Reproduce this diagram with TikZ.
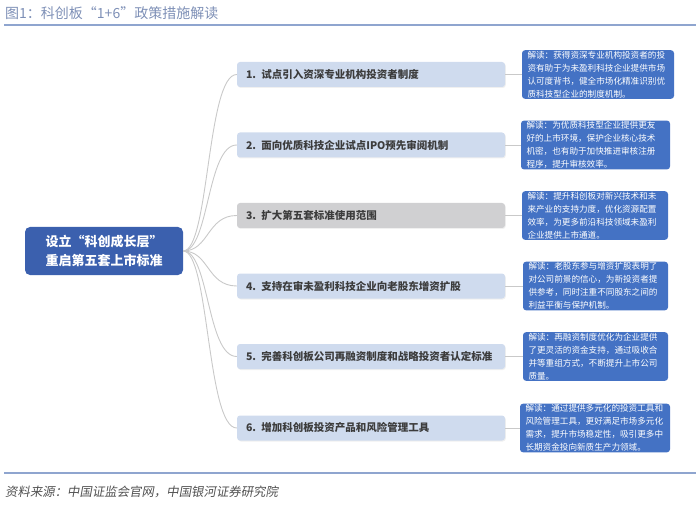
\documentclass[tikz,border=0pt]{standalone}
\usepackage{fontspec}
\setmainfont{Noto Sans CJK SC}
\newfontfamily\srcfont[FakeSlant=0.18]{Noto Sans CJK SC}
\usetikzlibrary{shadows}
\definecolor{titlecol}{HTML}{7D8FB6}
\definecolor{rulecol}{HTML}{8FA5CF}
\definecolor{rootblue}{HTML}{3B60AE}
\definecolor{branchblue}{HTML}{CFDBEE}
\definecolor{branchgray}{HTML}{D0D0D2}
\definecolor{notebl}{HTML}{4472C4}
\definecolor{conncol}{HTML}{C9C9C9}
\definecolor{btext}{HTML}{3C3C3C}
\definecolor{srcgray}{HTML}{505050}
\tikzset{
  root/.style={fill=rootblue, rounded corners=5pt, minimum width=158pt, minimum height=48pt,
    text=white, align=center, font=\bfseries\fontsize{13}{19}\selectfont},
  branch/.style={fill=branchblue, rounded corners=3pt, minimum height=25pt,
    text width=250pt, inner xsep=9pt, inner ysep=0pt, align=left, text=btext,
    font=\bfseries\fontsize{10.5}{12}\selectfont,
    drop shadow={opacity=0.12, shadow xshift=0.8pt, shadow yshift=-1pt}},
  graybranch/.style={branch, fill=branchgray},
  note/.style={fill=notebl, rounded corners=3pt, text=white, align=left,
    inner xsep=5.5pt, inner ysep=0.8pt, font=\fontsize{8.6}{13}\selectfont},
  conn/.style={draw=conncol, line width=0.9pt},
  rule/.style={draw=rulecol}
}
\begin{document}
\begin{tikzpicture}[x=1pt,y=-1pt]
\useasboundingbox (0,0) rectangle (700,510);
% title and rules
\node[anchor=west, text=titlecol, inner sep=0pt, font=\fontsize{14}{16}\selectfont] (title) at (5,13) {图1：科创板“1+6”政策措施解读};
\coordinate (tl1) at (4,25.5); \coordinate (tl2) at (696,25.5);
\draw[rule, line width=2pt] (tl1) -- (tl2);
\coordinate (bl1) at (4,473); \coordinate (bl2) at (696,473);
\draw[rule, line width=1.1pt] (bl1) -- (bl2);
\node[anchor=west, text=srcgray, inner sep=0pt, font=\srcfont\fontsize{12.4}{14}\selectfont] (src) at (5,492) {资料来源：中国证监会官网，中国银河证券研究院};
% root
\node[root] (r) at (104,251) {设立“科创成长层”\\重启第五套上市标准};
% branches
\node[branch] (b1) at (371,74.5) {1. 试点引入资深专业机构投资者制度};
\node[branch] (b2) at (371,145) {2. 面向优质科技企业试点IPO预先审阅机制};
\node[graybranch] (b3) at (371,215.5) {3. 扩大第五套标准使用范围};
\node[branch] (b4) at (371,286) {4. 支持在审未盈利科技企业向老股东增资扩股};
\node[branch] (b5) at (371,356.5) {5. 完善科创板公司再融资制度和战略投资者认定标准};
\node[branch] (b6) at (371,428) {6. 增加科创板投资产品和风险管理工具};
% notes
\node[note, text width=141pt] (n1) at (598,74.5) {解读：获得资深专业机构投资者的投\\资有助于为未盈利科技企业提供市场\\认可度背书，健全市场化精准识别优\\质科技型企业的制度机制。};
\node[note, text width=138pt] (n2) at (595.5,145) {解读：为优质科技型企业提供更友\\好的上市环境，保护企业核心技术\\机密，也有助于加快推进审核注册\\程序，提升审核效率。};
\node[note, text width=135pt] (n3) at (595,215.5) {解读：提升科创板对新兴技术和未\\来产业的支持力度，优化资源配置\\效率，为更多前沿科技领域未盈利\\企业提供上市通道。};
\node[note, text width=134pt] (n4) at (595.5,286) {解读：老股东参与增资扩股表明了\\对公司前景的信心，为新投资者提\\供参考，同时注重不同股东之间的\\利益平衡与保护机制。};
\node[note, text width=134pt] (n5) at (595.5,356.5) {解读：再融资制度优化为企业提供\\了更灵活的资金支持，通过吸收合\\并等重组方式，不断提升上市公司\\质量。};
\node[note, text width=139pt] (n6) at (595,428) {解读：通过提供多元化的投资工具和\\风险管理工具，更好满足市场多元化\\需求，提升市场稳定性，吸引更多中\\长期资金投向新质生产力领域。};
% connectors root -> branches
\foreach \b in {b1,b2,b3,b4,b5,b6}{
  \draw[conn] (r.east) .. controls +(26,0) and +(-30,0) .. (\b.west);
}
% connectors branches -> notes
\foreach \i in {1,...,6}{
  \draw[conn] (b\i.east) -- (n\i.west);
}
\end{tikzpicture}
\end{document}
